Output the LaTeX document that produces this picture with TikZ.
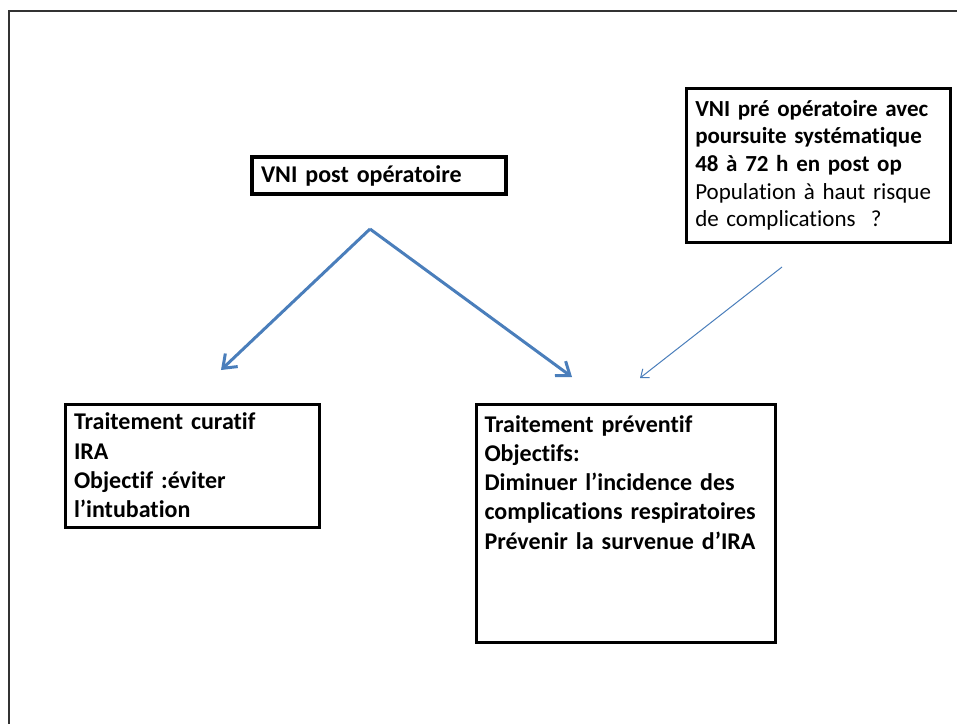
\documentclass[tikz,border=0pt]{standalone}
\usepackage{fontspec}
\setmainfont{Carlito}[Ligatures=NoCommon]
\usetikzlibrary{arrows.meta, positioning}
\definecolor{vniblue}{HTML}{4A7EBB}
\definecolor{framegray}{HTML}{333333}
\tikzset{
box/.style={draw=black, line width=3pt, anchor=north west, align=left, inner xsep=9pt, inner ysep=5pt}, % the black text boxes
big/.style={font=\fontsize{24}{29.3}\selectfont\bfseries}, % text of the lower boxes
fat/.style={vniblue, line width=3pt, -{Straight Barb[length=12pt,width=18pt]}}, % the two thick arrows
thin/.style={vniblue, line width=1pt, -{Straight Barb[length=7pt,width=11pt]}}, % the small arrow
}

\begin{document}
\begin{tikzpicture}[x=1pt, y=-1pt]
      \useasboundingbox (0,0) rectangle (957,724);
      \draw[framegray, line width=1.5pt] (957,11) -- (9,11) -- (9,724);
      \node[box, big, line width=4pt, minimum width=254, minimum height=37, text width=236] (postop) at (250,155) {VNI post opératoire};
      \node[box, line width=2.5pt, minimum width=262, minimum height=154, text width=246, font=\fontsize{23}{27.7}\selectfont] (preop) at (685,87) {\textbf{VNI pré opératoire avec}\\\textbf{poursuite systématique}\\\textbf{48 à 72 h en post op}\\Population à haut risque\\de complications~ ?};
      \node[box, big, minimum width=253, minimum height=123, text width=236] (curatif) at (63.5,402.5) {Traitement curatif\\IRA\\Objectif :éviter\\l’intubation};
      \node[box, big, minimum width=299, text width=282, text height=23, text depth=205, inner xsep=8pt] (preventif) at (474.5,402.5) {Traitement préventif\\Objectifs:\\Diminuer l’incidence des\\complications respiratoires\\Prévenir la survenue d’IRA};
      \coordinate (apex) at (370,229);
      \coordinate (curtip) at (221,370);
      \coordinate (prevtip) at (572,377);
      \coordinate (preopstart) at (782,267);
      \coordinate (preoptip) at (640,378);
      \draw[fat] (apex) -- (curtip);
      \draw[fat] (apex) -- (prevtip);
      \draw[thin] (preopstart) -- (preoptip);
\end{tikzpicture}
\end{document}
